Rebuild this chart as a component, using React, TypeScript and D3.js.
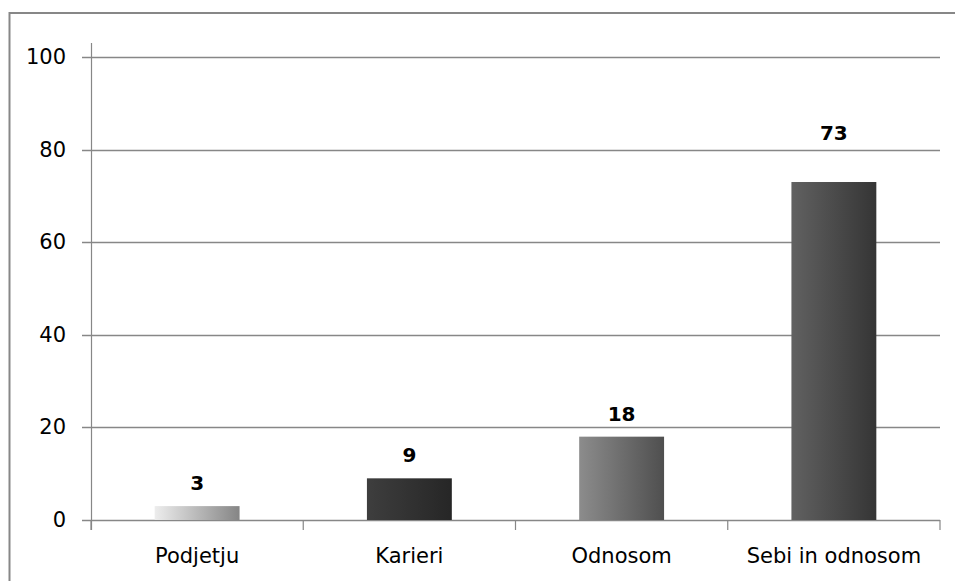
import React from "react";
import * as d3 from "d3";

const categories = ["Podjetju", "Karieri", "Odnosom", "Sebi in odnosom"];
const values = [3, 9, 18, 73];
const yTicks = [0, 20, 40, 60, 80, 100];
const gradStart = ["#ededed", "#3e3e3e", "#8c8c8c", "#616161"];
const gradEnd = ["#858585", "#262626", "#4f4f4f", "#353535"];
const labelGap = [16, 16, 16, 42];

const W = 955;
const H = 581;
const left = 91;
const right = 940;
const top = 57;
const bottom = 520;
const font = "'DejaVu Sans', sans-serif";
const gray = "#878787";

export default function App() {
  const x = d3.scaleBand<string>().domain(categories).range([left, right]).paddingInner(0.6).paddingOuter(0.3);
  const y = d3.scaleLinear().domain([0, 100]).range([bottom, top]);
  const bounds = d3.range(categories.length + 1).map((i) => left + (i * (right - left)) / categories.length);

  return (
    <svg width={W} height={H} style={{ position: "absolute", left: 0, top: 0 }} fontFamily={font}>
      <defs>
        {categories.map((c, i) => (
          <linearGradient key={c} id={`g${i}`} x1="0" x2="1" y1="0" y2="0">
            <stop offset="0%" stopColor={gradStart[i]} />
            <stop offset="100%" stopColor={gradEnd[i]} />
          </linearGradient>
        ))}
      </defs>
      <rect x={0} y={0} width={W} height={H} fill="#fff" />
      <rect x={9.5} y={13} width={W + 20} height={H + 20} fill="none" stroke={gray} strokeWidth={2} />
      {yTicks.map((t) => (
        <g key={t}>
          <line x1={82} x2={right} y1={Math.round(y(t)) + 0.5} y2={Math.round(y(t)) + 0.5} stroke={gray} strokeWidth={1.5} />
          <text x={66} y={y(t)} textAnchor="end" dominantBaseline="central" fontSize={21} fill="#000">
            {t}
          </text>
        </g>
      ))}
      <line x1={left + 0.5} x2={left + 0.5} y1={43} y2={530} stroke={gray} strokeWidth={1.2} />
      {bounds.map((b, i) => (
        <line key={i} x1={b} x2={b} y1={bottom} y2={530} stroke={gray} strokeWidth={1.2} />
      ))}
      {categories.map((c, i) => (
        <g key={c}>
          <rect x={x(c)} y={y(values[i])} width={x.bandwidth()} height={bottom - y(values[i])} fill={`url(#g${i})`} />
          <text
            x={(x(c) as number) + x.bandwidth() / 2}
            y={y(values[i]) - labelGap[i]}
            textAnchor="middle"
            fontSize={20}
            fontWeight="bold"
            fill="#000"
          >
            {values[i]}
          </text>
          <text x={(x(c) as number) + x.bandwidth() / 2} y={563} textAnchor="middle" fontSize={21} fill="#000">
            {c}
          </text>
        </g>
      ))}
    </svg>
  );
}
